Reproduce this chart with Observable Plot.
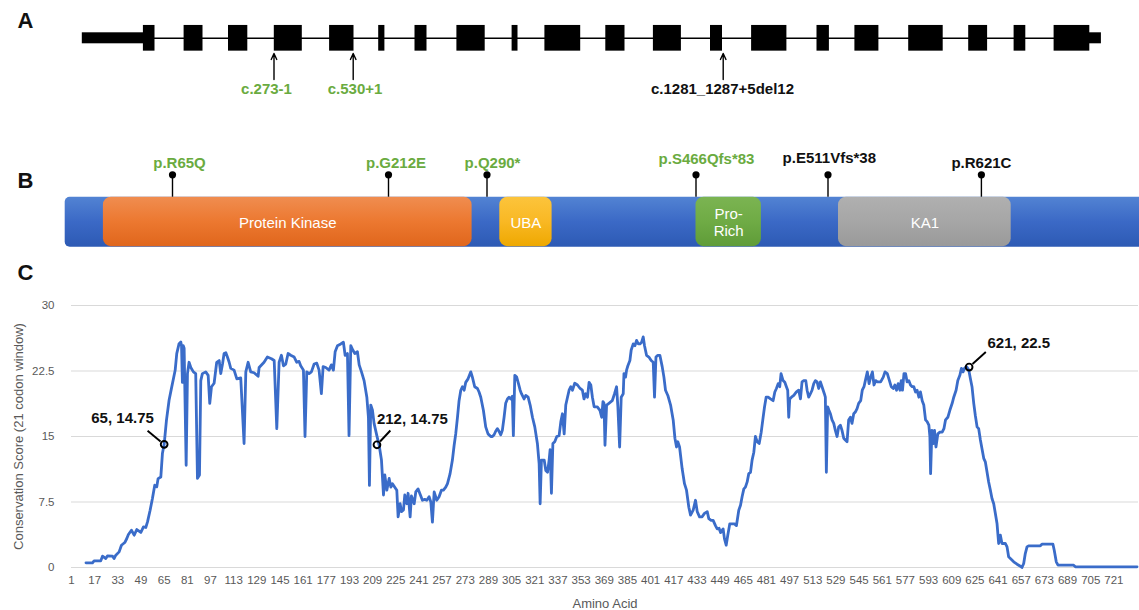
<!DOCTYPE html>
<html>
<head>
<meta charset="utf-8">
<script src="https://cdn.jsdelivr.net/npm/d3@7"></script>
<script src="https://cdn.jsdelivr.net/npm/@observablehq/plot@0.6"></script>
<style>
html, body { margin: 0; padding: 0; background: #fff; overflow: hidden; }
#fig { position: relative; width: 1139px; height: 610px; }
</style>
</head>
<body>
<div id="fig"></div>
<script>
// ================= DATA =================
// Panel A – gene schematic (schematic units along the gene)
const exonStarts = [142.9, 183.6, 228.0, 273.8, 329.1, 378.2, 414.5, 456.4, 511.6, 544.4, 605.3, 652.9, 710.0, 751.1, 816.5, 854.4, 908.2, 968.2, 1013.6, 1053.6];
const exonEnds   = [154.5, 202.5, 247.3, 301.8, 353.5, 384.4, 426.5, 484.7, 517.5, 580.2, 624.5, 680.9, 722.0, 786.4, 828.9, 878.4, 942.7, 987.1, 1025.3, 1089.3];
const utrStarts = [81.8, 1089.0];
const utrEnds   = [143.0, 1100.9];
const spliceVariants = ["c.273-1", "c.530+1", "c.1281_1287+5del12"];
const spliceSites    = [273.5, 352.7, 722.7];
const spliceNovel    = [true, true, false];

// Panel B – protein schematic (schematic units along the protein)
const proteinStart = 64.7;
const proteinEnd   = 1150;
const domainNames  = ["Protein Kinase", "UBA", "Pro-\nRich", "KA1"];
const domainStarts = [102.9, 499.3, 695.5, 838.0];
const domainEnds   = [471.6, 551.6, 760.9, 1010.7];
const proteinVariants     = ["p.R65Q", "p.G212E", "p.Q290*", "p.S466Qfs*83", "p.E511Vfs*38", "p.R621C"];
const proteinVariantSites = [172.0, 388.0, 486.5, 695.5, 827.5, 980.9];
const proteinNovel        = [true, true, true, true, false, false];

// Panel C – conservation score along the protein
const aminoAcid = [
 11,15.5,16.6,21.2,22.4,24.7,25.8,29.3,30.4,31.6,33.9,35.5,37.8,39.2,40.3,42.4,44.3,46.1,48.9,50.7,
 52.3,53.5,55.3,56.9,58.5,59.9,60.8,62.7,63.8,65.0,66.6,68.4,70.0,71.4,72.6,73.7,75.3,76.5,77.0,77.6,
 78.2,78.8,80.2,81.1,82.2,83.4,85.2,86.8,88.0,89.4,90.3,91.4,93.7,95.4,96.5,97.7,99.5,101.3,103.0,104.1,
 105.3,106.4,107.6,108.7,109.9,111.0,113.3,115.2,117.9,120.2,121.4,123.0,124.8,127.1,129.9,130.6,134.0,136.3,139.1,141.0,
 142.8,144.4,146.0,147.4,149.0,150.6,152.4,154.8,156.6,158.2,159.3,161.2,162.3,163.5,165.1,166.7,168.6,170.4,172.0,173.6,
 174.8,176.6,178.9,180.5,181.9,183.1,184.7,187.0,188.8,190.0,191.6,192.7,193.9,195.3,196.7,198.5,199.7,201.3,203.1,205.0,
 206.1,206.8,207.7,208.9,210.0,211.9,213.5,215.1,216.5,217.4,218.8,220.4,221.6,222.7,224.3,225.7,226.6,228.0,228.9,230.3,
 231.2,232.6,233.5,234.9,235.8,237.7,238.8,240.4,241.8,243.4,245.0,246.4,248.0,249.2,250.3,251.5,253.3,254.9,256.5,257.9,
 259.5,260.7,262.5,264.1,265.3,266.4,267.6,268.7,269.9,271.0,272.2,273.3,274.9,276.8,277.9,279.5,281.4,282.5,283.7,285.5,
 287.1,288.7,290.6,291.7,292.9,294.0,295.2,296.3,297.5,298.6,299.8,300.9,302.1,303.2,304.4,305.5,306.2,307.2,308.5,309.5,
 310.9,311.8,313.6,314.8,316.4,317.8,319.4,321.0,322.8,324.0,324.7,325.6,327.5,328.6,329.8,330.9,331.6,332.5,333.5,334.8,
 336.2,337.8,339.0,340.1,341.3,342.4,343.6,344.7,345.9,347.0,348.6,350.5,352.3,353.9,355.0,356.2,357.4,358.5,359.7,360.8,
 362.0,364.2,366.0,367.2,368.1,368.8,369.5,370.6,372.2,374.5,376.1,377.5,378.4,379.6,380.7,382.1,382.6,383.7,384.4,385.3,
 386.7,387.6,389.0,390.2,391.3,392.5,393.6,394.8,395.9,396.8,398.2,399.8,401.4,402.8,403.7,404.7,406.0,407.4,409.0,410.2,
 411.3,412.9,414.8,416.6,417.8,418.9,419.8,421.0,422.8,424.4,425.8,427.4,428.6,430.4,432.0,433.2,434.8,436.6,438.2,440.1,
 441.2,442.8,444.2,445.8,447.0,448.3,449.3,451.1,452.0,453.2,454.3,455.7,457.3,458.9,460.3,461.9,463.1,464.2,465.4,466.5,
 467.7,468.8,470.0,471.1,472.3,473.4,474.6,476.0,477.4,478.5,479.7,480.8,482.2,483.8,485.6,486.8,487.9,489.1,490.2,491.1,
 492.5,493.7,494.8,495.7,496.4,497.1,498.3,499.9,501.7,503.3,504.5,505.6,506.8,508.2,509.1,510.2,511.4,512.5,513.7,514.8,
 516.0,517.1,518.3,519.4,521.0,521.7,522.4,523.3,524.2,525.2,526.3,527.5,528.6,529.8,530.9,532.1,533.2,534.4,535.5,536.7,
 537.8,539.0,540.1,541.3,542.4,543.6,544.7,546.1,547.2,548.4,549.6,550.7,551.9,553.0,554.2,555.3,556.5,557.6,559.9,561.7,
 562.9,564.5,565.6,567.2,568.6,569.7,570.9,572.0,573.2,574.1,575.0,576.0,577.1,578.2,579.4,580.5,581.7,582.8,584.0,585.1,
 586.3,587.4,588.6,589.7,590.9,592.0,593.2,593.9,594.4,595.3,596.2,597.1,598.1,599.4,600.8,602.4,603.6,604.7,606.3,607.7,
 609.3,610.4,612.0,613.2,614.6,615.7,616.8,617.8,619.2,620.8,621.9,623.0,624.2,625.3,626.5,627.6,628.8,629.9,631.1,632.2,
 633.4,634.5,635.7,636.8,638.0,639.1,640.3,641.4,642.6,643.7,646.0,647.2,648.3,649.5,651.8,654.1,656.4,657.5,658.7,659.8,
 661.0,662.1,670.2,671.3,678.9,679.8,681.2,682.4,693.2,694.4,737.0
];
const conservation = [
 0.53,0.53,0.76,0.76,1.30,1.03,1.33,1.30,1.03,1.41,1.79,2.55,2.86,3.32,3.78,4.27,3.70,4.35,4.01,4.65,
 4.58,5.22,6.56,7.89,9.42,9.23,10.18,10.37,13.04,14.11,16.87,19.15,20.48,21.62,22.58,24.49,25.63,25.82,25.4,21.2,
 25.4,25.1,11.7,22.2,23.5,22.9,22.4,22.2,10.2,10.6,21.4,22.2,22.4,22.0,18.8,20.7,21.1,23.5,23.7,22.2,
 23.3,24.5,24.6,24.1,23.5,22.8,22.6,21.6,21.7,14.2,22.4,23.5,22.4,22.3,21.9,22.9,23.5,24.1,23.9,23.7,
 15.9,23.5,24.3,23.1,23.3,24.5,24.3,24.1,23.5,23.6,23.1,22.6,15.0,22.4,22.2,22.4,23.3,23.4,22.6,19.9,
 23.0,22.9,22.6,23.2,22.6,24.7,25.4,25.6,25.8,24.3,24.5,15.1,25.4,24.9,24.5,24.7,23.2,22.4,21.4,19.5,
 17.2,9.4,18.6,18.0,16.5,15.1,14.0,12.3,8.3,10.6,8.85,10.2,9.2,9.6,9.2,8.85,5.8,7.3,6.4,6.6,
 8.3,7.3,8.5,5.8,8.2,7.3,8.65,9.0,8.4,7.7,7.8,7.7,8.1,7.5,5.2,8.65,7.7,8.1,8.85,8.85,
 9.2,9.6,10.75,12.3,14.0,15.3,17.2,19.1,20.3,20.7,20.3,21.2,21.6,22.4,21.8,20.7,20.5,20.1,19.5,18.0,
 16.1,15.3,15.0,15.0,15.2,15.6,15.9,15.6,15.2,15.7,17.2,18.8,19.3,19.5,19.3,19.6,15.1,22.0,21.8,21.2,
 20.3,19.9,19.3,19.7,19.5,18.6,17.2,16.1,14.2,11.9,7.3,12.3,12.3,11.1,10.9,12.3,13.5,8.5,14.2,14.4,
 15.0,15.1,16.7,17.6,15.3,18.6,19.5,20.3,20.7,20.3,21.1,20.9,20.5,20.3,19.3,19.9,19.5,21.2,20.9,19.5,
 18.4,18.4,18.0,17.2,19.0,18.8,14.0,18.6,18.8,19.1,19.9,20.7,18.4,13.8,19.5,19.9,22.2,21.8,22.6,23.1,
 23.7,24.9,25.6,25.4,26.0,25.6,25.6,25.8,26.4,25.4,24.3,24.1,23.7,23.5,19.5,24.1,24.3,24.3,23.0,21.8,
 20.3,19.7,18.6,16.9,14.8,13.8,14.4,13.8,11.3,9.6,8.85,6.9,6.0,6.56,7.7,6.4,5.8,5.8,6.2,6.4,
 5.6,5.4,5.4,4.8,4.42,4.5,4.0,4.42,3.3,2.55,3.7,5.0,5.0,5.0,4.8,6.56,7.13,8.1,9.0,9.2,
 9.8,10.75,10.9,12.3,13.2,15.0,14.4,14.2,15.5,16.9,18.4,19.5,19.5,19.3,19.1,20.1,20.5,21.05,20.7,22.2,
 21.4,21.2,20.7,20.3,17.2,19.3,19.5,19.7,20.1,20.3,19.3,21.25,21.4,21.4,20.3,19.5,19.9,20.3,21.05,21.4,
 21.25,20.5,21.25,20.7,19.9,19.5,10.9,18.4,18.0,17.6,16.9,16.5,15.7,15.0,16.1,16.3,15.7,14.8,14.6,14.4,
 16.9,17.2,16.5,17.6,17.8,18.2,18.8,19.1,20.3,20.7,21.6,22.4,21.05,21.8,22.4,20.9,21.4,21.25,21.25,21.8,
 22.4,22.2,21.6,20.7,20.5,20.9,20.3,21.05,20.3,21.4,20.3,22.2,22.2,21.25,21.4,20.9,20.7,20.7,20.1,20.3,
 19.5,20.1,19.1,18.6,16.9,16.7,16.3,15.0,10.75,15.7,14.2,15.7,13.8,15.3,15.5,15.5,15.9,16.9,17.2,18.0,
 18.8,19.5,20.3,21.4,22.0,22.8,22.4,22.8,23.0,22.6,21.6,20.7,18.8,17.4,16.1,15.9,14.6,13.6,12.5,12.1,
 10.9,9.8,8.85,7.9,7.3,6.2,5.0,2.75,3.7,2.75,2.75,2.36,1.22,1.03,0.65,0.38,0.15,0,0.46,1.6,
 2.36,2.48,2.48,2.67,2.67,1.98,0.65,0.27,0.27,0.08,0.08
];
const xTicks = [1,17,33,49,65,81,97,113,129,145,161,177,193,209,225,241,257,273,289,305,321,337,353,369,385,401,417,433,449,465,481,497,513,529,545,561,577,593,609,625,641,657,673,689,705,721];
const yTicks = [0, 7.5, 15, 22.5, 30];
const calloutLabels = ["65, 14.75", "212, 14.75", "621, 22.5"];
const calloutAA     = [65, 212, 621];
const calloutScore  = [14.1, 14.05, 22.95];

// ================= STYLE / LAYOUT =================
const FONT = '"Liberation Sans", Arial, Helvetica, sans-serif';
const GREEN = "#6aab40";
const LINE_BLUE = "#3a6cc9";
const fig = document.getElementById("fig");
function place(svg, top) {
  svg.style.position = "absolute";
  svg.style.left = "0px";
  svg.style.top = top + "px";
  fig.appendChild(svg);
  return svg;
}
const range = n => Array.from({length: n}, (_, i) => i);
const panelLetter = (letter, dx, dy) => Plot.text([letter], {text: d => d, frameAnchor: "top-left", dx, dy, textAnchor: "middle", lineAnchor: "middle", fontSize: 22, fontWeight: "bold", fill: "#111"});

// ---------- Panel A ----------
const A = {mid: 37.8, exonHalf: 12.85, utrHalf: 5.5, arrowTail: 79, arrowTip: 53, labelY: 89};
const spliceLabelShift = [-7.5, 1.8, -0.7];
const exonIdx = range(exonStarts.length);
const spliceIdx = range(spliceSites.length);

const plotA = Plot.plot({
  width: 1139, height: 110, margin: 0,
  x: {domain: [0, 1139], range: [0, 1139], axis: null},
  y: {domain: [0, 110], range: [0, 110], axis: null},
  style: {fontFamily: FONT, background: "white"},
  marks: [
    Plot.ruleY([A.mid], {x1: exonStarts[0], x2: exonEnds[exonEnds.length - 1], stroke: "#000", strokeWidth: 1.5}),
    Plot.rect(range(utrStarts.length), {x1: i => utrStarts[i], x2: i => utrEnds[i], y1: A.mid - A.utrHalf, y2: A.mid + A.utrHalf, fill: "#000"}),
    Plot.rect(exonIdx, {x1: i => exonStarts[i], x2: i => exonEnds[i], y1: A.mid - A.exonHalf, y2: A.mid + A.exonHalf, fill: "#000"}),
    Plot.arrow(spliceIdx, {x1: i => spliceSites[i], x2: i => spliceSites[i], y1: A.arrowTail, y2: A.arrowTip, stroke: "#000", strokeWidth: 1.4, headLength: 7, headAngle: 50}),
    Plot.text(spliceIdx.filter(i => spliceNovel[i]), {x: i => spliceSites[i] + spliceLabelShift[i], y: A.labelY, text: i => spliceVariants[i], fill: GREEN, fontSize: 15, fontWeight: "bold"}),
    Plot.text(spliceIdx.filter(i => !spliceNovel[i]), {x: i => spliceSites[i] + spliceLabelShift[i], y: A.labelY, text: i => spliceVariants[i], fill: "#111", fontSize: 15, fontWeight: "bold"}),
    panelLetter("A", 25, 20)
  ]
});
place(plotA, 0);

// ---------- Panel B ----------
const B = {top: 196.7, bottom: 246.7, dotY: 174.3, domainLabelY: 221.7};
const pLabelShift = [7, 7.5, 5.5, 10.5, 1.3, 0];
const pLabelY = [162.3, 162.3, 162.3, 158.3, 157.7, 162.3];
const domainGradients = ["url(#gOrange)", "url(#gGold)", "url(#gGreen)", "url(#gGray)"];
const domIdx = range(domainNames.length);
const varIdx = range(proteinVariants.length);

const plotB = Plot.plot({
  width: 1139, height: 150, margin: 0,
  x: {domain: [0, 1139], range: [0, 1139], axis: null},
  y: {domain: [110, 260], range: [0, 150], axis: null},
  style: {fontFamily: FONT, background: "white"},
  marks: [
    Plot.rect([0], {x1: proteinStart, x2: proteinEnd, y1: B.top, y2: B.bottom, rx: 5, fill: "url(#gBlue)"}),
    ...domIdx.map(i => Plot.rect([i], {x1: domainStarts[i], x2: domainEnds[i], y1: B.top, y2: B.bottom - 0.5, rx: 8, fill: domainGradients[i]})),
    Plot.text(domIdx, {x: i => (domainStarts[i] + domainEnds[i]) / 2, y: B.domainLabelY, text: i => domainNames[i], fill: "white", fontSize: 15, lineHeight: 1.15}),
    Plot.ruleX(varIdx, {x: i => proteinVariantSites[i], y1: B.dotY, y2: B.top, stroke: "#000", strokeWidth: 1.4}),
    Plot.dot(varIdx, {x: i => proteinVariantSites[i], y: B.dotY, r: 3.6, fill: "#000", stroke: "none"}),
    Plot.text(varIdx.filter(i => proteinNovel[i]), {x: i => proteinVariantSites[i] + pLabelShift[i], y: i => pLabelY[i], text: i => proteinVariants[i], fill: GREEN, fontSize: 15, fontWeight: "bold"}),
    Plot.text(varIdx.filter(i => !proteinNovel[i]), {x: i => proteinVariantSites[i] + pLabelShift[i], y: i => pLabelY[i], text: i => proteinVariants[i], fill: "#111", fontSize: 15, fontWeight: "bold"}),
    panelLetter("B", 25, 70)
  ]
});
const NS = "http://www.w3.org/2000/svg";
const defs = document.createElementNS(NS, "defs");
defs.innerHTML = `
  <linearGradient id="gBlue" x1="0" y1="0" x2="0" y2="1"><stop offset="0" stop-color="#5283d3"/><stop offset="0.5" stop-color="#3b69c6"/><stop offset="1" stop-color="#2d5ab4"/></linearGradient>
  <linearGradient id="gOrange" x1="0" y1="0" x2="0" y2="1"><stop offset="0" stop-color="#f08d50"/><stop offset="0.5" stop-color="#ec7830"/><stop offset="1" stop-color="#e0661c"/></linearGradient>
  <linearGradient id="gGold" x1="0" y1="0" x2="0" y2="1"><stop offset="0" stop-color="#fcc43c"/><stop offset="0.5" stop-color="#f9b824"/><stop offset="1" stop-color="#eea800"/></linearGradient>
  <linearGradient id="gGreen" x1="0" y1="0" x2="0" y2="1"><stop offset="0" stop-color="#7bb452"/><stop offset="0.5" stop-color="#6fab45"/><stop offset="1" stop-color="#5f9c38"/></linearGradient>
  <linearGradient id="gGray" x1="0" y1="0" x2="0" y2="1"><stop offset="0" stop-color="#b0b0b0"/><stop offset="0.5" stop-color="#a6a6a6"/><stop offset="1" stop-color="#9a9a9a"/></linearGradient>`;
plotB.insertBefore(defs, plotB.firstChild);
place(plotB, 110);

// ---------- Panel C ----------
const C = {width: 1139, height: 350, mt: 45, mb: 43, ml: 71, mr: 1};
const xDomain = [1, 738];
const yDomain = [0, 30];
const pxPerAA = (C.width - C.ml - C.mr) / (xDomain[1] - xDomain[0]);
const pxPerScore = (C.height - C.mt - C.mb) / (yDomain[1] - yDomain[0]);
// leader offsets in pixels (start and end relative to the marker)
const leaders = [
  {sx: -3.6, sy: -2.9, ex: -16.6, ey: -13.6},
  {sx: 3.1, sy: -3.3, ex: 13.4, ey: -14.3},
  {sx: 3.4, sy: -3.0, ex: 16.7, ey: -15.0}
];
const calloutOffsets = [[-41.6, -26], [35.4, -26], [49.7, -23.4]];
const series = aminoAcid.map((a, i) => ({aa: a, score: conservation[i]}));
const cIdx = range(calloutLabels.length);

const plotC = Plot.plot({
  width: C.width, height: C.height,
  marginTop: C.mt, marginBottom: C.mb, marginLeft: C.ml, marginRight: C.mr,
  x: {domain: xDomain, axis: null},
  y: {domain: yDomain, axis: null},
  style: {fontFamily: FONT, fontSize: "11px", background: "white"},
  marks: [
    Plot.gridY(yTicks, {stroke: "#d9d9d9", strokeOpacity: 1, strokeWidth: 1}),
    Plot.axisY({ticks: yTicks, tickSize: 0, tickPadding: 17, tickFormat: d => String(d), fontSize: 11.5, color: "#595959", label: null}),
    Plot.axisX({ticks: xTicks, tickSize: 0, tickPadding: 8, tickFormat: d => String(d), fontSize: 11.5, color: "#595959", label: null}),
    Plot.line(series, {x: "aa", y: "score", stroke: LINE_BLUE, strokeWidth: 2.8, strokeLinejoin: "round"}),
    Plot.link(cIdx, {
      x1: i => calloutAA[i] + leaders[i].sx / pxPerAA, y1: i => calloutScore[i] - leaders[i].sy / pxPerScore,
      x2: i => calloutAA[i] + leaders[i].ex / pxPerAA, y2: i => calloutScore[i] - leaders[i].ey / pxPerScore,
      stroke: "#000", strokeWidth: 1.9
    }),
    Plot.dot(cIdx, {x: i => calloutAA[i], y: i => calloutScore[i], r: 3.4, stroke: "#000", strokeWidth: 1.9, fill: "none"}),
    ...cIdx.map(i => Plot.text([i], {x: calloutAA[i], y: calloutScore[i], text: () => calloutLabels[i], dx: calloutOffsets[i][0], dy: calloutOffsets[i][1], fontSize: 15, fontWeight: "bold", fill: "#111"})),
    Plot.text(["Conservation Score (21 codon window)"], {text: d => d, frameAnchor: "left", dx: -53, rotate: -90, textAnchor: "middle", lineAnchor: "middle", fontSize: 13, fill: "#595959"}),
    Plot.text(["Amino Acid"], {text: d => d, frameAnchor: "bottom", dy: 36, textAnchor: "middle", lineAnchor: "middle", fontSize: 13, fill: "#595959"}),
    panelLetter("C", -46, -33)
  ]
});
place(plotC, 260);
</script>
</body>
</html>
